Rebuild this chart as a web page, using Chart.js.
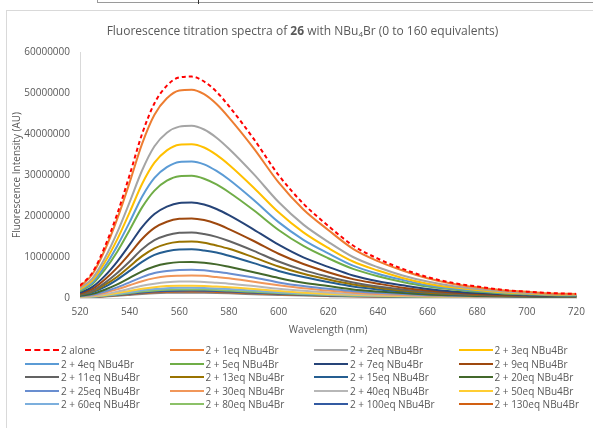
<!DOCTYPE html>
<html>
<head>
<meta charset="utf-8">
<script src="https://cdn.jsdelivr.net/npm/chart.js@4.4.1/dist/chart.umd.min.js"></script>
<style>
  html, body { margin: 0; padding: 0; background: #fff; }
  body { width: 593px; height: 428px; overflow: hidden; position: relative; font-family: "Open Sans", "Noto Sans", sans-serif; color: #595959; }
  #topbox { position: absolute; left: 97px; top: -2px; width: 520px; height: 3px; border: 1px solid #9a9a9a; }
  #topdiv { position: absolute; left: 198px; top: -2px; width: 1px; height: 6px; background: #333; }
  #frame { position: absolute; left: 6px; top: 10px; width: 600px; height: 430px; border: 1px solid #d9d9d9; }
  #wrap { position: absolute; left: 0; top: 0; width: 593px; height: 345px; }
  #title { position: absolute; left: 0; top: 22px; width: 605px; text-align: center; font-size: 12px; white-space: nowrap; }
  #title sub { font-size: 8px; vertical-align: -2px; line-height: 0; }
  #legend { position: absolute; left: 25px; top: 343px; width: 580px; font-size: 10px; }
  .item { position: absolute; height: 14px; line-height: 14px; white-space: nowrap; }
  .swatch { display: inline-block; width: 34px; height: 0; border-top: 2px solid; vertical-align: middle; margin-right: 2px; position: relative; top: -1px; }
</style>
</head>
<body>
<div id="topbox"></div>
<div id="topdiv"></div>
<div id="frame"></div>
<div id="wrap"><canvas id="chart" width="593" height="345"></canvas></div>
<div id="title">Fluorescence titration spectra of <b>26</b> with NBu<sub>4</sub>Br (0 to 160 equivalents)</div>
<div id="legend"></div>
<script>
// wavelength (nm)
const wavelengths = [520, 525, 530, 535, 540, 545, 550, 555, 560, 565, 570, 575, 580, 590, 600, 610, 620, 630, 640, 650, 660, 670, 680, 690, 700, 710, 720];

// intensities in millions of AU
const alone = [3.0, 6.2, 12.5, 20.5, 30.0, 40.0, 47.5, 51.8, 53.8, 54.0, 52.8, 50.3, 46.8, 38.8, 30.0, 23.0, 17.6, 12.8, 9.6, 7.1, 5.1, 3.7, 2.8, 2.0, 1.55, 1.2, 1.0];
const eq1 = [2.8, 5.8, 11.7, 19.3, 28.2, 37.6, 44.7, 48.7, 50.6, 50.8, 49.7, 47.3, 44.0, 36.5, 28.2, 21.6, 16.6, 12.0, 9.0, 6.7, 4.8, 3.5, 2.6, 1.9, 1.5, 1.1, 1.0];
const eq2 = [2.4, 4.8, 9.7, 16.0, 23.4, 31.1, 37.0, 40.3, 41.8, 42.0, 41.1, 39.1, 36.4, 30.2, 23.4, 17.9, 13.7, 10.0, 7.5, 5.5, 4.0, 2.9, 2.2, 1.6, 1.2, 0.95, 0.8];
const eq3 = [2.1, 4.3, 8.7, 14.3, 20.9, 27.8, 33.0, 36.0, 37.4, 37.5, 36.7, 34.9, 32.5, 26.9, 20.9, 16.0, 12.2, 8.9, 6.7, 4.9, 3.5, 2.6, 1.95, 1.4, 1.1, 0.85, 0.75];
const eq4 = [1.9, 3.8, 7.7, 12.7, 18.5, 24.7, 29.3, 31.9, 33.2, 33.3, 32.6, 31.0, 28.9, 23.9, 18.5, 14.2, 10.9, 7.9, 5.9, 4.4, 3.1, 2.3, 1.75, 1.25, 1.0, 0.75, 0.65];
const eq5 = [1.7, 3.4, 6.9, 11.3, 16.6, 22.1, 26.2, 28.6, 29.7, 29.8, 29.1, 27.7, 25.8, 21.4, 16.6, 12.7, 9.7, 7.1, 5.3, 3.9, 2.8, 2.1, 1.55, 1.1, 0.9, 0.7, 0.6];
const eq7 = [1.3, 2.7, 5.4, 8.9, 13.0, 17.3, 20.5, 22.3, 23.2, 23.3, 22.8, 21.7, 20.2, 16.7, 13.0, 9.9, 7.6, 5.5, 4.1, 3.1, 2.2, 1.6, 1.2, 0.9, 0.7, 0.55, 0.5];
const eq9 = [1.1, 2.2, 4.5, 7.4, 10.8, 14.4, 17.1, 18.6, 19.3, 19.4, 19.0, 18.1, 16.8, 13.9, 10.8, 8.3, 6.3, 4.6, 3.5, 2.5, 1.8, 1.35, 1.0, 0.75, 0.6, 0.5, 0.45];
const eq11 = [0.9, 1.8, 3.7, 6.1, 8.9, 11.9, 14.1, 15.3, 15.9, 16.0, 15.6, 14.9, 13.9, 11.5, 8.9, 6.8, 5.2, 3.8, 2.8, 2.1, 1.5, 1.1, 0.85, 0.65, 0.5, 0.45, 0.4];
const eq13 = [0.8, 1.6, 3.2, 5.2, 7.7, 10.2, 12.1, 13.2, 13.7, 13.8, 13.5, 12.8, 12.0, 9.9, 7.7, 5.9, 4.5, 3.3, 2.5, 1.8, 1.3, 1.0, 0.75, 0.55, 0.45, 0.4, 0.35];
const eq15 = [0.7, 1.4, 2.7, 4.5, 6.6, 8.8, 10.5, 11.4, 11.85, 11.9, 11.6, 11.1, 10.3, 8.5, 6.6, 5.1, 3.9, 2.8, 2.1, 1.6, 1.15, 0.85, 0.65, 0.5, 0.4, 0.35, 0.3];
const eq20 = [0.5, 1.0, 2.0, 3.3, 4.9, 6.5, 7.7, 8.4, 8.75, 8.8, 8.6, 8.2, 7.6, 6.3, 4.9, 3.7, 2.9, 2.1, 1.6, 1.2, 0.85, 0.65, 0.5, 0.4, 0.35, 0.3, 0.3];
const eq25 = [0.45, 0.8, 1.6, 2.6, 3.8, 5.1, 6.1, 6.6, 6.85, 6.9, 6.75, 6.4, 6.0, 5.0, 3.8, 2.9, 2.25, 1.65, 1.25, 0.95, 0.7, 0.55, 0.45, 0.35, 0.3, 0.28, 0.25];
const eq30 = [0.4, 0.65, 1.3, 2.1, 3.1, 4.1, 4.85, 5.3, 5.45, 5.5, 5.4, 5.1, 4.8, 3.95, 3.1, 2.35, 1.8, 1.3, 1.0, 0.75, 0.55, 0.45, 0.38, 0.3, 0.27, 0.25, 0.22];
const eq40 = [0.35, 0.5, 0.95, 1.55, 2.25, 3.0, 3.5, 3.85, 4.0, 4.0, 3.9, 3.7, 3.5, 2.9, 2.25, 1.75, 1.35, 1.0, 0.78, 0.6, 0.47, 0.38, 0.32, 0.27, 0.24, 0.22, 0.2];
const eq50 = [0.3, 0.42, 0.75, 1.2, 1.7, 2.25, 2.65, 2.9, 3.0, 3.0, 2.95, 2.8, 2.6, 2.2, 1.7, 1.3, 1.0, 0.78, 0.6, 0.48, 0.38, 0.32, 0.27, 0.23, 0.21, 0.2, 0.18];
const eq60 = [0.28, 0.38, 0.65, 1.0, 1.42, 1.87, 2.2, 2.4, 2.5, 2.5, 2.45, 2.33, 2.17, 1.8, 1.42, 1.1, 0.85, 0.65, 0.52, 0.42, 0.34, 0.28, 0.24, 0.21, 0.19, 0.18, 0.17];
const eq80 = [0.25, 0.33, 0.55, 0.85, 1.2, 1.57, 1.85, 2.02, 2.09, 2.1, 2.05, 1.96, 1.82, 1.51, 1.2, 0.92, 0.72, 0.56, 0.45, 0.36, 0.3, 0.25, 0.22, 0.19, 0.17, 0.16, 0.15];
const eq100 = [0.22, 0.3, 0.48, 0.74, 1.03, 1.35, 1.59, 1.73, 1.79, 1.8, 1.76, 1.68, 1.56, 1.3, 1.03, 0.8, 0.62, 0.48, 0.39, 0.32, 0.26, 0.22, 0.19, 0.17, 0.15, 0.14, 0.13];
const eq130 = [0.2, 0.27, 0.43, 0.66, 0.92, 1.2, 1.41, 1.54, 1.59, 1.6, 1.57, 1.49, 1.39, 1.15, 0.92, 0.71, 0.56, 0.43, 0.35, 0.29, 0.24, 0.2, 0.17, 0.15, 0.14, 0.13, 0.12];
const eq160 = [0.18, 0.23, 0.36, 0.54, 0.75, 0.97, 1.15, 1.25, 1.29, 1.3, 1.27, 1.21, 1.13, 0.94, 0.75, 0.58, 0.46, 0.36, 0.3, 0.25, 0.21, 0.18, 0.15, 0.13, 0.12, 0.11, 0.1];

const seriesNames = ['2 alone', '2 + 1eq NBu4Br', '2 + 2eq NBu4Br', '2 + 3eq NBu4Br', '2 + 4eq NBu4Br', '2 + 5eq NBu4Br',
  '2 + 7eq NBu4Br', '2 + 9eq NBu4Br', '2 + 11eq NBu4Br', '2 + 13eq NBu4Br', '2 + 15eq NBu4Br', '2 + 20eq NBu4Br',
  '2 + 25eq NBu4Br', '2 + 30eq NBu4Br', '2 + 40eq NBu4Br', '2 + 50eq NBu4Br', '2 + 60eq NBu4Br', '2 + 80eq NBu4Br',
  '2 + 100eq NBu4Br', '2 + 130eq NBu4Br', '2 + 160eq NBu4Br'];
const seriesData = [alone, eq1, eq2, eq3, eq4, eq5, eq7, eq9, eq11, eq13, eq15, eq20, eq25, eq30, eq40, eq50, eq60, eq80, eq100, eq130, eq160];
const seriesColors = ['#ff0000', '#ed7d31', '#a5a5a5', '#ffc000', '#5b9bd5', '#70ad47', '#264478', '#9e480e', '#636363', '#997300',
  '#255e91', '#43682b', '#698ed0', '#f1975a', '#b7b7b7', '#ffcd33', '#7cafdd', '#8cc168', '#335aa1', '#d26012', '#848484'];
const legendCount = 20; // the last entry does not fit in the legend area

const yTicks = [0, 10, 20, 30, 40, 50, 60];

const datasets = seriesData.map(function (vals, i) {
  return {
    label: seriesNames[i],
    data: wavelengths.map(function (w, j) { return { x: w, y: vals[j] }; }),
    borderColor: seriesColors[i],
    borderWidth: 2,
    borderDash: i === 0 ? [4, 3] : [],
    pointRadius: 0,
    cubicInterpolationMode: 'monotone',
    fill: false,
    order: i === 0 ? -1 : i
  };
});

new Chart(document.getElementById('chart'), {
  type: 'line',
  data: { datasets: datasets },
  options: {
    responsive: false,
    animation: false,
    events: [],
    layout: { padding: { top: 52, right: 11, left: 0, bottom: 0 } },
    plugins: { legend: { display: false }, title: { display: false }, tooltip: { enabled: false } },
    scales: {
      x: {
        type: 'linear', min: 520, max: 720,
        grid: { display: false, drawTicks: false },
        border: { color: '#d9d9d9', width: 1 },
        ticks: { stepSize: 20, padding: 8, color: '#595959', font: { family: 'Open Sans', size: 10 } },
        title: { display: true, text: 'Wavelength (nm)', color: '#595959', font: { family: 'Open Sans', size: 10 }, padding: { top: 0, bottom: 9 } },
        afterFit: function (s) { s.height = 47; }
      },
      y: {
        min: 0, max: 60,
        grid: { display: false, drawTicks: false },
        border: { color: '#d9d9d9', width: 1 },
        afterBuildTicks: function (s) { s.ticks = yTicks.map(function (v) { return { value: v }; }); },
        ticks: {
          padding: 10, color: '#595959', font: { family: 'Open Sans', size: 10 },
          callback: function (v) { return String(v * 1000000); }
        },
        title: { display: true, text: 'Fluorescence Intensity (AU)', color: '#595959', font: { family: 'Open Sans', size: 10 }, padding: { top: 11, bottom: 0 } },
        afterFit: function (s) { s.width = 80; }
      }
    }
  }
});

// legend laid out in Excel's fixed 4-column grid
const legendEl = document.getElementById('legend');
for (let i = 0; i < legendCount; i++) {
  const col = i % 4, row = Math.floor(i / 4);
  const item = document.createElement('div');
  item.className = 'item';
  item.style.left = (col * 144.5) + 'px';
  item.style.top = (row * 13.5) + 'px';
  const sw = document.createElement('span');
  sw.className = 'swatch';
  sw.style.borderTopColor = seriesColors[i];
  if (i === 0) sw.style.borderTopStyle = 'dashed';
  item.appendChild(sw);
  item.appendChild(document.createTextNode(seriesNames[i]));
  legendEl.appendChild(item);
}
</script>
</body>
</html>
